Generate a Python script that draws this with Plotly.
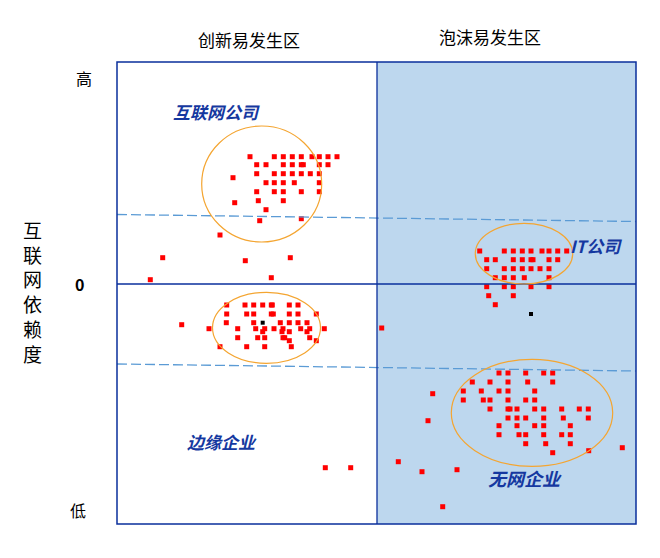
import plotly.graph_objects as go

# ---- data (x: left<0 = 创新易发生区, right>0 = 泡沫易发生区 ; y: 互联网依赖度) ----
inet_x = [-127, -102.7, -93.7, -84.7, -75.7, -65, -57.7, -49, -40,
          -120.3, -111, -93.7, -84.7, -75.7, -73.7, -57.7, -49,
          -120.3, -102.7, -93.7, -84.7, -75.7, -66.7, -57.7,
          -144,
          -111, -102.7, -93.7, -82.7, -57.7,
          -120.3, -102.7, -93.7, -75.7, -57.7,
          -118.7, -93.7, -142.3, -111, -75.7, -117.3,
          -157, -214.3, -131.7, -86.7, -226.7, -105.7]
inet_y = [127.3] * 9 + [119.3] * 8 + [110.3] * 7 + [106.3] + [101.3] * 5 + [92.3] * 5 + \
         [83.3, 83.3, 81.3, 74.3, 65.3, 63.3,
          49, 26.3, 23.3, 26.3, 4.3, 6.3]

edge_x = [-150.3, -132, -123.3, -114.3, -105.7, -104.7, -87.7, -79,
          -150.3, -130.3, -123.3, -105.7, -103.7, -87.7, -79, -60.7,
          -150.7, -123.3, -96.7, -87.7, -79, -70,
          -195.3,
          -168, -139.3, -121.3, -112.3, -103, -94, -76.3, -67.3, -52.7,
          -114.3, -95, -87.7, -70,
          -139.3, -119.3, -112.3, -94, -92.3, -67.3,
          -87.7, -60.7,
          -157, -130.3, -112.3, -85.7,
          4.7, -51.7, -26.3]
edge_y = [-21] * 8 + [-30] * 8 + [-38.7] * 6 + [-40.7] + [-44.7] * 9 + [-47.7] * 4 + \
         [-53.7] * 6 + [-56.7] * 2 + [-62.7] * 4 + [-44, -183.7, -183.7]

it_x = [102.7, 127.3, 136.3, 145.3, 154, 165, 172, 180.7, 189.7,
        109.7, 118.3, 136.3, 145.3, 154, 156, 172, 180.7,
        109.7, 127.3, 136.3, 145.3, 154, 163, 172,
        118.3, 127.3, 136.3, 147.3, 172,
        109.7, 127.3, 136.3, 154, 172,
        111.7, 136.3, 118.3]
it_y = [33] * 9 + [24.3] * 8 + [15.3] * 7 + [6.3] * 5 + [-2.7] * 5 + [-11.7] * 2 + [-20.7]

none_x = [122, 131, 148.7, 166.7, 175.7,
          95.3, 113, 131, 150.7, 175.7,
          86.3, 104.3, 122, 131, 157.7,
          55.7,
          86.3, 106.3, 113, 131, 148.7, 157.7,
          113, 131, 133, 140, 157.7, 166.7, 184.7, 202.3, 211.3,
          131, 140, 148.7, 166.7, 186.3, 211.3,
          51,
          122, 140, 157.7, 166.7, 193.3,
          122, 142, 148.7, 166.7, 184.7, 193.3,
          148.7, 168.7, 193.3,
          175.7, 211.7, 245.3, 21.3, 45, 80, 65.7]
none_y = [-89] * 5 + [-98] * 5 + [-107] * 5 + [-109.7] + [-116] * 6 + [-125] * 9 + \
         [-134] * 6 + [-136.7] + [-141.7] * 5 + [-150.7] * 6 + [-159.7] * 3 + \
         [-168.7, -166.7, -163.7, -177.7, -187.7, -185.7, -222.7]

black_x = [-114.3, 154]
black_y = [-38.7, -30]

zone_labels = ["创新易发生区", "泡沫易发生区"]
group_labels = ["互联网公司", "边缘企业", "IT公司", "无网企业"]
y_tick_vals = [206, 0, -226]
y_tick_text = ["高", "0", "低"]
y_title = "互联网依赖度"

X_RANGE = [-260, 259]
Y_RANGE = [-240, 222]
NAVY = "#0a2f9c"
LABEL_BLUE = "#1538a0"
ORANGE = "#f4a531"
DASH_BLUE = "#5b9bd5"
FONT = "Noto Sans CJK SC"
PLOT_W, PLOT_H = 519, 462

fig = go.Figure()
red_x = inet_x + edge_x + it_x + none_x
red_y = inet_y + edge_y + it_y + none_y
fig.add_trace(go.Scatter(x=red_x, y=red_y, mode="markers",
                         marker=dict(symbol="square", size=5, color="#ff0000", line=dict(width=0)),
                         hoverinfo="skip", showlegend=False))
fig.add_trace(go.Scatter(x=black_x, y=black_y, mode="markers",
                         marker=dict(symbol="square", size=4, color="#000000", line=dict(width=0)),
                         hoverinfo="skip", showlegend=False))

shapes = [
    dict(type="rect", xref="x", yref="paper", x0=0, x1=X_RANGE[1], y0=0, y1=1,
         fillcolor="#bdd7ee", line=dict(width=0), layer="below"),
    dict(type="line", xref="x", yref="y", x0=X_RANGE[0], x1=X_RANGE[1], y0=69.5, y1=62.5,
         line=dict(color=DASH_BLUE, width=1.3, dash="10px,4px")),
    dict(type="line", xref="x", yref="y", x0=X_RANGE[0], x1=X_RANGE[1], y0=-80, y1=-87,
         line=dict(color=DASH_BLUE, width=1.3, dash="10px,4px")),
    dict(type="line", xref="x", yref="paper", x0=0, x1=0, y0=0, y1=1,
         line=dict(color=NAVY, width=1.3)),
    dict(type="line", xref="paper", yref="y", x0=0, x1=1, y0=0, y1=0,
         line=dict(color=NAVY, width=1.3)),
    dict(type="circle", xref="x", yref="y", x0=-175.3, x1=-55.3, y0=42, y1=158,
         line=dict(color=ORANGE, width=1.2)),
    dict(type="circle", xref="x", yref="y", x0=-164.5, x1=-56.5, y0=-79.3, y1=-8.3,
         line=dict(color=ORANGE, width=1.2)),
    dict(type="circle", xref="x", yref="y", x0=98.3, x1=195.7, y0=0, y1=60.6,
         line=dict(color=ORANGE, width=1.2)),
    dict(type="circle", xref="x", yref="y", x0=74.3, x1=235.7, y0=-182.3, y1=-75.3,
         line=dict(color=ORANGE, width=1.2)),
    dict(type="rect", xref="paper", yref="paper", x0=0, x1=1, y0=0, y1=1,
         line=dict(color=NAVY, width=1.5)),
]

annotations = []
# zone headers (above plot)
for txt, xc, py in zip(zone_labels, [-128, 113], [40, 36]):
    annotations.append(dict(text=txt, x=xc, y=(524 - py) / PLOT_H, xref="x", yref="paper",
                            xanchor="center", yanchor="middle", showarrow=False,
                            font=dict(family=FONT, size=17, color="#000000")))
# group labels
for txt, xc, yc, fs in zip(group_labels, [-161, -155, 219, 148], [173, -157, 39, -194],
                           [17, 17, 17, 18]):
    annotations.append(dict(text=txt, x=xc, y=yc, xref="x", yref="y", showarrow=False,
                            xanchor="center", yanchor="middle",
                            font=dict(family=FONT, size=fs, color=LABEL_BLUE,
                                      style="italic", weight="bold")))
# y tick labels
for txt, val, px in zip(y_tick_text, y_tick_vals, [84, 79, 78]):
    annotations.append(dict(text=txt, x=(px - 117) / PLOT_W, y=val, xref="paper", yref="y",
                            xanchor="center", yanchor="middle", showarrow=False,
                            font=dict(family=FONT, size=16, color="#000000",
                                      weight="bold" if txt == "0" else "normal")))
# y axis title (vertical characters)
annotations.append(dict(text="<br>".join(list(y_title)), x=(32 - 117) / PLOT_W, y=(284 - 291.5),
                        xref="paper", yref="y", xanchor="center", yanchor="middle",
                        showarrow=False,
                        font=dict(family=FONT, size=19, color="#000000")))

fig.update_layout(
    width=652, height=550,
    margin=dict(l=109, r=24, t=54, b=34),
    paper_bgcolor="#ffffff", plot_bgcolor="#ffffff",
    xaxis=dict(range=X_RANGE, showgrid=False, zeroline=False, showticklabels=False,
               ticks="", showline=False),
    yaxis=dict(range=Y_RANGE, showgrid=False, zeroline=False, showticklabels=False,
               ticks="", showline=False),
    shapes=shapes, annotations=annotations,
    showlegend=False,
)

fig.write_html("out.html")
